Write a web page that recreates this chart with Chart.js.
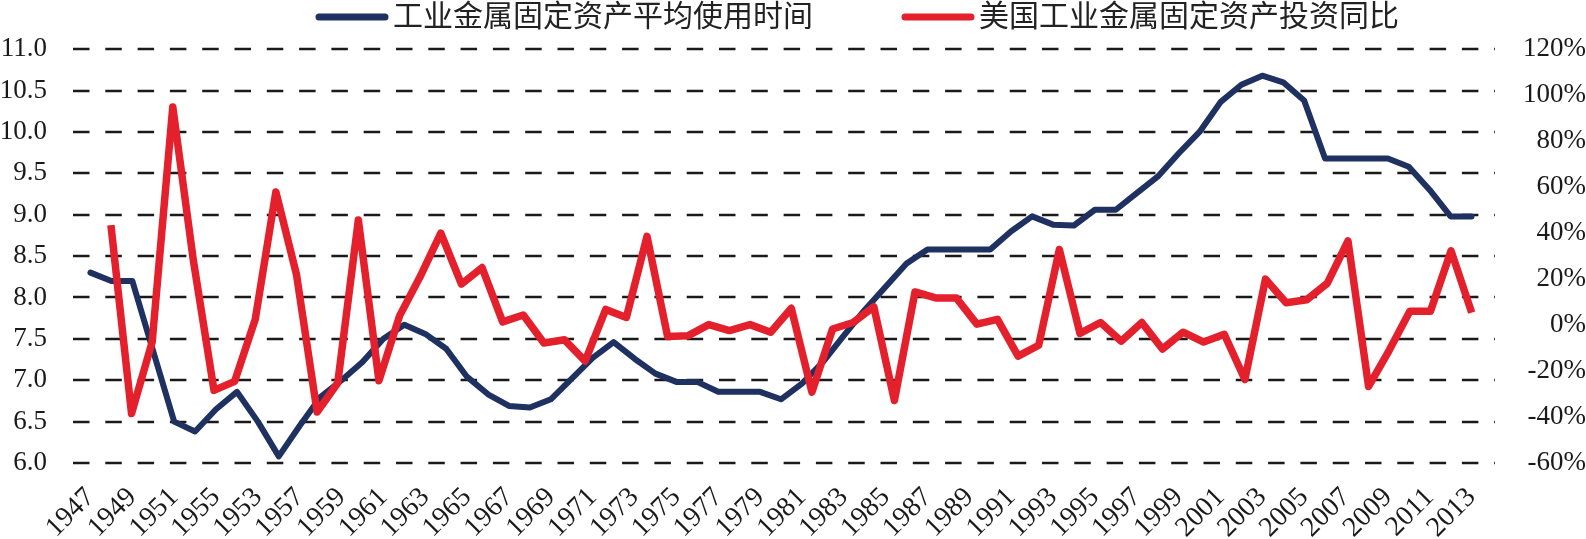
<!DOCTYPE html>
<html lang="zh-CN">
<head>
<meta charset="utf-8">
<title>工业金属固定资产平均使用时间</title>
<script src="https://cdn.jsdelivr.net/npm/chart.js@4.4.1/dist/chart.umd.min.js"></script>
<style>
  html, body { margin: 0; padding: 0; background: #ffffff; }
  #chart { display: block; }
</style>
</head>
<body>
<canvas id="chart" width="1586" height="539"></canvas>
<script>
// Categories for the blue series (primary axis)
const years = [
  1947, 1948, 1949, 1950, 1951, 1952, 1953, 1954, 1955, 1956,
  1957, 1958, 1959, 1960, 1961, 1962, 1963, 1964, 1965, 1966,
  1967, 1968, 1969, 1970, 1971, 1972, 1973, 1974, 1975, 1976,
  1977, 1978, 1979, 1980, 1981, 1982, 1983, 1984, 1985, 1986,
  1987, 1988, 1989, 1990, 1991, 1992, 1993, 1994, 1995, 1996,
  1997, 1998, 1999, 2000, 2001, 2002, 2003, 2004, 2005, 2006,
  2007, 2008, 2009, 2010, 2011, 2012, 2013
];

// Categories for the red series (secondary axis, 1947 has no value)
const redYears = [
  1947, 1948, 1949, 1950, 1951, 1952, 1953, 1954, 1955, 1956,
  1957, 1958, 1959, 1960, 1961, 1962, 1963, 1964, 1965, 1966,
  1967, 1968, 1969, 1970, 1971, 1972, 1973, 1974, 1975, 1976,
  1977, 1978, 1979, 1980, 1981, 1982, 1983, 1984, 1985, 1986,
  1987, 1988, 1989, 1990, 1991, 1992, 1993, 1994, 1995, 1996,
  1997, 1998, 1999, 2000, 2001, 2002, 2003, 2004, 2005, 2006,
  2007, 2008, 2009, 2010, 2011, 2012, 2013, 2014
];

// Tick labels as printed on the original (every second year)
const tickLabels = [
  '1947', '1949', '1951', '1955', '1953', '1957', '1959', '1961', '1963',
  '1965', '1967', '1969', '1971', '1973', '1975', '1977', '1979', '1981',
  '1983', '1985', '1987', '1989', '1991', '1993', '1995', '1997', '1999',
  '2001', '2003', '2005', '2007', '2009', '2011', '2013'
];

// 工业金属固定资产平均使用时间 (left axis)
const avgServiceLife = [
  8.3, 8.2, 8.2, 7.35, 6.5, 6.38, 6.65, 6.86, 6.5, 6.08,
  6.45, 6.8, 7.0, 7.22, 7.5, 7.67, 7.56, 7.38, 7.04, 6.83,
  6.69, 6.67, 6.77, 7.02, 7.27, 7.46, 7.26, 7.08, 6.98, 6.98,
  6.86, 6.86, 6.86, 6.77, 6.96, 7.22, 7.54, 7.85, 8.13, 8.41,
  8.58, 8.58, 8.58, 8.58, 8.8, 8.98, 8.88, 8.87, 9.06, 9.06,
  9.26, 9.46, 9.74, 10.0, 10.36, 10.57, 10.68, 10.6, 10.38, 9.68,
  9.68, 9.68, 9.68, 9.58, 9.3, 8.98, 8.98
];

// 美国工业金属固定资产投资同比, % (right axis)
const investmentYoY = [
  null,
  43.5, -38.5, -7.4, 94.9, 28, -28.4, -24.5, 2.5, 57.9, 22,
  -37.8, -25.2, 45.7, -24.2, 4, 21.1, 40, 17.8, 25, 1.4,
  4.4, -7.8, -6.4, -15.7, 6.8, 3.3, 38.6, -5, -4.6, 0.2,
  -2.4, 0.2, -3.1, 7.3, -29.2, -1.7, 1.1, 8, -32.8, 14.4,
  11.8, 11.8, 0.4, 2.5, -13.5, -8.8, 32.9, -3.6, 1.1, -7,
  1.1, -10.4, -3.1, -7.4, -4, -23.7, 20, 9.7, 11, 18.2,
  36.6, -26.7, -11, 6, 6, 32.3, 5.4
];

const serif = '"Liberation Serif", "Times New Roman", serif';
const tickFont = { family: serif, size: 27 };

// Dashed horizontal lines at the left-axis ticks, a bit wider than the plot
const dashedGrid = {
  id: 'dashedGrid',
  beforeDatasetsDraw(chart) {
    const { ctx, chartArea, scales } = chart;
    const y = scales.y;
    ctx.save();
    ctx.strokeStyle = '#1a1a1a';
    ctx.lineWidth = 2.5;
    ctx.setLineDash([16.5, 15.8]);
    y.ticks.forEach(t => {
      const py = Math.round(y.getPixelForValue(t.value));
      ctx.beginPath();
      ctx.moveTo(chartArea.left - 7, py);
      ctx.lineTo(chartArea.right + 13, py);
      ctx.stroke();
    });
    ctx.restore();
  }
};

// Legend row at the top
const topLegend = {
  id: 'topLegend',
  afterDraw(chart) {
    const { ctx } = chart;
    const starts = [316, 902];
    ctx.save();
    ctx.font = '30px "Noto Sans CJK SC"';
    ctx.textBaseline = 'middle';
    chart.data.datasets.forEach((ds, i) => {
      const x = starts[i];
      ctx.strokeStyle = ds.borderColor;
      ctx.lineWidth = 7;
      ctx.lineCap = 'round';
      ctx.beginPath();
      ctx.moveTo(x + 3, 17);
      ctx.lineTo(x + 69, 17);
      ctx.stroke();
      ctx.fillStyle = '#222222';
      ctx.fillText(ds.label, x + 77, 15);
    });
    ctx.restore();
  }
};

const canvas = document.getElementById('chart');

canvas.chart = new Chart(canvas, {
  type: 'line',
  data: {
    labels: years,
    datasets: [
      {
        label: '工业金属固定资产平均使用时间',
        data: avgServiceLife,
        xAxisID: 'x',
        yAxisID: 'y',
        borderColor: '#1e3160',
        borderWidth: 6,
        borderJoinStyle: 'round',
        borderCapStyle: 'round',
        pointRadius: 0,
        tension: 0,
        fill: false,
        order: 1
      },
      {
        label: '美国工业金属固定资产投资同比',
        data: investmentYoY,
        xAxisID: 'x2',
        yAxisID: 'y1',
        borderColor: '#e3202c',
        borderWidth: 7.5,
        borderJoinStyle: 'round',
        borderCapStyle: 'butt',
        pointRadius: 0,
        tension: 0,
        fill: false,
        order: 0
      }
    ]
  },
  options: {
    responsive: false,
    animation: false,
    layout: { padding: { top: 42, left: 0, right: 0, bottom: 0 } },
    plugins: {
      legend: { display: false },
      tooltip: { enabled: false }
    },
    scales: {
      x: {
        type: 'category',
        position: 'bottom',
        offset: true,
        grid: { display: false, drawTicks: false },
        border: { display: false },
        ticks: {
          autoSkip: false,
          minRotation: 45,
          maxRotation: 45,
          padding: 18,
          color: '#1a1a1a',
          font: { family: serif, size: 28 },
          callback: (value, index) => (index % 2 === 0 ? tickLabels[index / 2] : null)
        },
        afterFit: scale => { scale.height = 76; }
      },
      x2: {
        type: 'category',
        labels: redYears,
        offset: true,
        display: false
      },
      y: {
        position: 'left',
        min: 6,
        max: 11,
        grid: { display: false, drawTicks: false },
        border: { display: false },
        ticks: {
          stepSize: 0.5,
          padding: 33,
          color: '#1a1a1a',
          font: tickFont,
          callback: value => value.toFixed(1)
        },
        afterFit: scale => { scale.width = 80; }
      },
      y1: {
        position: 'right',
        min: -60,
        max: 120,
        grid: { display: false, drawTicks: false },
        border: { display: false },
        ticks: {
          stepSize: 20,
          crossAlign: 'far',
          color: '#1a1a1a',
          font: tickFont,
          callback: value => value + '%'
        },
        afterFit: scale => { scale.width = 104; }
      }
    }
  },
  plugins: [dashedGrid, topLegend]
});
</script>
</body>
</html>
